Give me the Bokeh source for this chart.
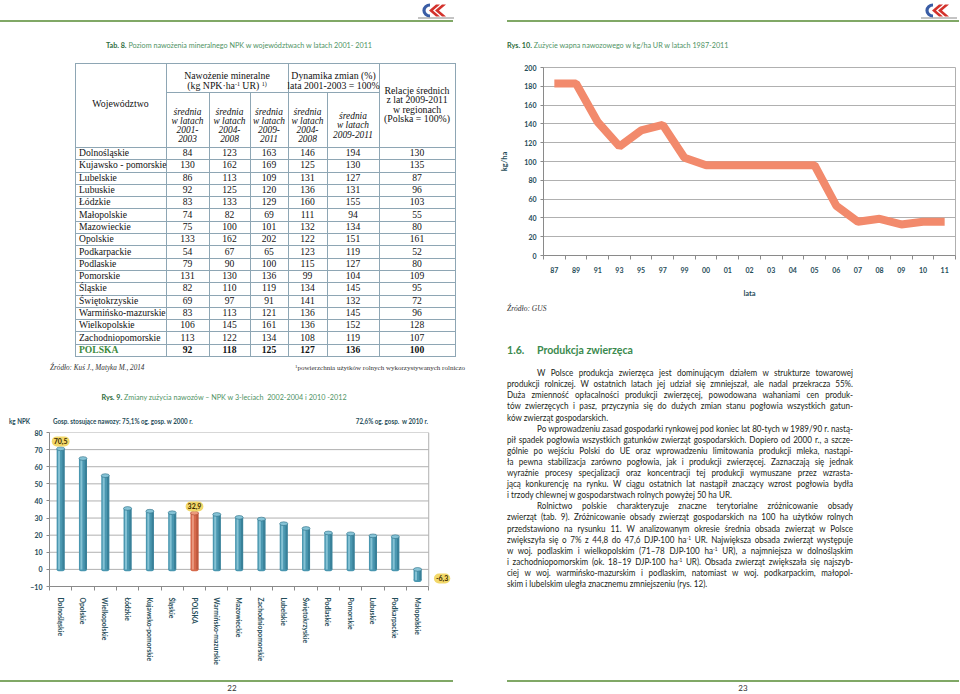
import numpy as np
from bokeh.plotting import figure
from bokeh.models import Range1d, FixedTicker, Label, Div, ColumnDataSource
from bokeh.layouts import column, row
from bokeh.transform import dodge
from bokeh.embed import file_html
from bokeh.resources import INLINE

# ---------------- data ----------------
regions = ["Dolnośląskie", "Kujawsko - pomorskie", "Lubelskie", "Lubuskie", "Łódzkie",
           "Małopolskie", "Mazowieckie", "Opolskie", "Podkarpackie", "Podlaskie",
           "Pomorskie", "Śląskie", "Świętokrzyskie", "Warmińsko-mazurskie",
           "Wielkopolskie", "Zachodniopomorskie", "POLSKA"]
npk_2001_2003 = [84, 130, 86, 92, 83, 74, 75, 133, 54, 79, 131, 82, 69, 83, 106, 113, 92]
npk_2004_2008 = [123, 162, 113, 125, 133, 82, 100, 162, 67, 90, 130, 110, 97, 113, 145, 122, 118]
npk_2009_2011 = [163, 169, 109, 120, 129, 69, 101, 202, 65, 100, 136, 119, 91, 121, 161, 134, 125]
dyn_2004_2008 = [146, 125, 131, 136, 160, 111, 132, 122, 123, 115, 99, 134, 141, 136, 136, 108, 127]
dyn_2009_2011 = [194, 130, 127, 131, 155, 94, 134, 151, 119, 127, 104, 145, 132, 145, 152, 119, 136]
rel_2009_2011 = [130, 135, 87, 96, 103, 55, 80, 161, 52, 80, 109, 95, 72, 96, 128, 107, 100]

bar_regions = ["Dolnośląskie", "Opolskie", "Wielkopolskie", "Łódzkie", "Kujawsko-pomorskie",
               "Śląskie", "POLSKA", "Warmińsko-mazurskie", "Mazowieckie", "Zachodniopomorskie",
               "Lubelskie", "Świętokrzyskie", "Podlaskie", "Pomorskie", "Lubuskie",
               "Podkarpackie", "Małopolskie"]
npk_change = [70.5, 64.8, 54.8, 35.6, 34.0, 33.1, 32.9, 32.1, 30.4, 29.4, 26.7, 23.9,
              21.3, 20.8, 19.6, 19.1, -6.3]
bar_ticks = [-10, 0, 10, 20, 30, 40, 50, 60, 70, 80]

lime_years = ["87", "89", "91", "93", "95", "97", "99", "00", "01", "02", "03", "04",
              "05", "06", "07", "08", "09", "10", "11"]
lime_kg_ha = [183, 183, 142, 116, 133, 139, 104, 96, 96, 96, 96, 96, 96, 53, 36, 39, 33, 36, 36]
line_ticks = [0, 20, 40, 60, 80, 100, 120, 140, 160, 180, 200]

# ---------------- styles ----------------
SANS = "Lato"
SANS_CSS = "Lato, sans-serif"
SERIF_CSS = "'Liberation Serif', serif"
TEAL = "#1f4d59"
GD = "#2e6d40"
GL = "#4f9364"
RULE = "#80a866"
GRID = "#b0b0b0"
AXC = "#8a8a8a"
BC = "#8ea6b4"


# ---------------- HTML helpers ----------------
def tx(x, y, s, size, fam=SANS_CSS, color="#222222", weight="normal", style="normal",
       align="left", sx=1.0):
    t = {"left": "0%", "center": "-50%", "right": "-100%"}[align]
    o = {"left": "0% 50%", "center": "50% 50%", "right": "100% 50%"}[align]
    return (f'<div style="position:absolute;left:{x}px;top:{y}px;'
            f'transform:translate({t},-50%) scaleX({sx});transform-origin:{o};'
            f'white-space:nowrap;font-family:{fam};font-size:{size}px;font-weight:{weight};'
            f'font-style:{style};color:{color};line-height:1.2">{s}</div>')


def rect(x, y, w, h, color):
    return (f'<div style="position:absolute;left:{x}px;top:{y}px;width:{w}px;height:{h}px;'
            f'background:{color}"></div>')


def logo(x, y):
    return (f'<svg style="position:absolute;left:{x}px;top:{y}px" width="38" height="17" '
            f'viewBox="0 0 38 17">'
            f'<path d="M13 3 A6 5.5 0 1 0 13 14" stroke="#3a5da5" stroke-width="3.2" fill="none"/>'
            f'<polygon points="12,8.5 19,2.5 23,2.5 16,8.5 23,14.5 19,14.5" fill="#d3322c"/>'
            f'<polygon points="18,8.5 25,2.5 29,2.5 22,8.5 29,14.5 25,14.5" fill="#d3322c"/>'
            f'<rect x="1" y="15.5" width="36" height="1" fill="#8a8a8a"/></svg>')


def box(parts, w, h):
    return (f'<div style="position:relative;width:{w}px;height:{h}px;overflow:hidden;'
            f'background:#ffffff">' + "".join(parts) + '</div>')


SUPM = '<sup style="font-size:6px;vertical-align:3px;line-height:0">-1</sup>'

# ---------------- left top: header, table, bar chart header ----------------
L = [rect(0, 20, 453, 2, RULE), logo(417, 2)]
L.append(tx(239, 46, f'<b style="color:{GD}">Tab. 8.</b> Poziom nawożenia mineralnego NPK '
                     f'w województwach w latach 2001- 2011', 8, color=GL, align="center", sx=0.9))

E = [75, 166, 209, 250, 288, 327, 379, 455]
T_TOP, T_SUB, T_HB, T_BOT = 63, 92, 147, 356
rh = (T_BOT - T_HB) / len(regions)
hys = [T_TOP, T_HB] + [T_HB + rh * k for k in range(1, len(regions) + 1)]
for yy in hys:
    L.append(rect(E[0], round(yy), E[-1] - E[0] + 1, 1, BC))
L.append(rect(E[1], T_SUB, E[6] - E[1], 1, BC))
for xx in [E[0], E[1], E[4], E[6], E[7]]:
    L.append(rect(xx, T_TOP, 1, T_BOT - T_TOP, BC))
for xx in [E[2], E[3], E[5]]:
    L.append(rect(xx, T_SUB, 1, T_BOT - T_SUB, BC))

L.append(tx(120.5, 104, "Województwo", 9.8, fam=SERIF_CSS, color="#111", align="center"))
L.append(tx(227, 75.5, "Nawożenie mineralne", 9.8, fam=SERIF_CSS, color="#111", align="center"))
L.append(tx(227, 86, '(kg NPK·ha' + SUPM + ' UR) <sup style="font-size:6px;vertical-align:3px;'
                     'line-height:0">1)</sup>', 9.8, fam=SERIF_CSS, color="#111", align="center"))
L.append(tx(333.5, 75.5, "Dynamika zmian (%)", 9.8, fam=SERIF_CSS, color="#111", align="center"))
L.append(tx(333.5, 86, "lata 2001-2003 = 100%", 9.8, fam=SERIF_CSS, color="#111", align="center"))
for k, s in enumerate(["Relacje średnich", "z lat 2009-2011", "w regionach", "(Polska = 100%)"]):
    L.append(tx(417, 90.5 + 9.6 * k, s, 9.8, fam=SERIF_CSS, color="#111", align="center"))
sub_heads = [["średnia", "w latach", "2001-", "2003"], ["średnia", "w latach", "2004-", "2008"],
             ["średnia", "w latach", "2009-", "2011"], ["średnia", "w latach", "2004-", "2008"]]
for j, lines in enumerate(sub_heads):
    cx = (E[j + 1] + E[j + 2]) / 2
    for k, s in enumerate(lines):
        L.append(tx(cx, 112.5 + 9.3 * k, s, 9.4, fam=SERIF_CSS, color="#111", style="italic",
                    align="center"))
for k, s in enumerate(["średnia", "w latach", "2009-2011"]):
    L.append(tx((E[5] + E[6]) / 2, 117 + 9.3 * k, s, 9.4, fam=SERIF_CSS, color="#111",
                style="italic", align="center"))

cols = [npk_2001_2003, npk_2004_2008, npk_2009_2011, dyn_2004_2008, dyn_2009_2011, rel_2009_2011]
centers = [(E[j] + E[j + 1]) / 2 for j in range(1, 7)]
for i, r in enumerate(regions):
    y = T_HB + rh * (i + 0.5)
    pl_row = r == "POLSKA"
    L.append(tx(79, y, r, 9.6, fam=SERIF_CSS, color="#3c8a3c" if pl_row else "#111",
                weight="bold" if pl_row else "normal"))
    for c, cx in zip(cols, centers):
        L.append(tx(cx, y, str(c[i]), 9.6, fam=SERIF_CSS, color="#111",
                    weight="bold" if pl_row else "normal", align="center"))

L.append(tx(50, 368, "Źródło: Kuś J., Matyka M., 2014", 7.2, fam=SERIF_CSS, color="#333",
            style="italic"))
L.append(tx(295, 368, '<sup style="font-size:5px;vertical-align:2px;line-height:0">1</sup>'
                      'powierzchnia użytków rolnych wykorzystywanych rolniczo', 7,
            fam=SERIF_CSS, color="#333"))

L.append(tx(224, 398, f'<b style="color:{GD}">Rys. 9.</b> Zmiany zużycia nawozów – NPK '
                      f'w 3-leciach&nbsp; 2002-2004 i 2010 -2012', 8, color=GL, align="center",
            sx=0.9))
L.append(tx(9, 421, "kg NPK", 7, color=TEAL, weight="bold", sx=0.89))
L.append(tx(53, 421, "Gosp. stosujące nawozy: 75,1% og. gosp. w 2000 r.", 7, color=TEAL,
            weight="bold", sx=0.89))
L.append(tx(428, 421, "72,6% og. gosp.&nbsp; w 2010 r.", 7, color=TEAL, weight="bold",
            align="right", sx=0.89))
div_lt = Div(text=box(L, 480, 427), width=480, height=427, margin=(0, 0, 0, 0))

# ---------------- left: bar chart ----------------
n = len(bar_regions)
xb = list(range(n))
vals = np.array(npk_change)
is_pl = [r == "POLSKA" for r in bar_regions]
src = ColumnDataSource(dict(
    x=xb, top=np.maximum(vals, 0), bot=np.minimum(vals, 0),
    base=["#d66a4c" if f else "#4a97b0" for f in is_pl],
    light=["#f0a68c" if f else "#9ad0e0" for f in is_pl],
    dark=["#a9472f" if f else "#2c6f87" for f in is_pl],
    cap=["#ec9a7e" if f else "#86c3d6" for f in is_pl]))

x_lo, x_hi = -0.5, n - 0.5
pb = figure(width=480, height=245, x_range=Range1d(x_lo, x_hi + 1.2), y_range=Range1d(-10, 80),
            min_border_left=49, min_border_right=25, min_border_top=5, min_border_bottom=86,
            toolbar_location=None, output_backend="svg", outline_line_color=None)
pb.xgrid.visible = False
pb.ygrid.visible = False
pb.segment(x0=[x_lo] * len(bar_ticks), y0=bar_ticks, x1=[x_hi] * len(bar_ticks), y1=bar_ticks,
           line_color=GRID, line_width=1)
pb.segment(x0=[x_hi], y0=[bar_ticks[0]], x1=[x_hi], y1=[bar_ticks[-1]], line_color=GRID, line_width=1)
pb.ellipse(x="x", y="bot", width=0.36, height=2.2, fill_color="base", line_color=None, source=src)
pb.vbar(x="x", top="top", bottom="bot", width=0.36, fill_color="base", line_color=None, source=src)
pb.vbar(x=dodge("x", -0.07, range=pb.x_range), top="top", bottom="bot", width=0.09,
        fill_color="light", fill_alpha=0.75, line_color=None, source=src)
pb.vbar(x=dodge("x", 0.13, range=pb.x_range), top="top", bottom="bot", width=0.1,
        fill_color="dark", fill_alpha=0.55, line_color=None, source=src)
pb.ellipse(x="x", y="top", width=0.36, height=2.2, fill_color="cap", line_color="dark",
           line_width=0.6, source=src)

pb.yaxis.ticker = FixedTicker(ticks=bar_ticks)
pb.yaxis.major_tick_out = 3
pb.yaxis.major_tick_in = 0
pb.yaxis.minor_tick_line_color = None
pb.yaxis.major_label_standoff = 4
pb.xaxis.ticker = FixedTicker(ticks=xb, minor_ticks=[i - 0.5 for i in range(n + 1)])
pb.xaxis.major_label_overrides = {i: r for i, r in zip(xb, bar_regions)}
pb.xaxis.major_label_orientation = "vertical"
pb.xaxis.bounds = (x_lo, x_hi)
pb.xaxis.major_tick_in = 0
pb.xaxis.major_tick_out = 0
pb.xaxis.minor_tick_in = 0
pb.xaxis.minor_tick_out = 4
pb.xaxis.major_label_standoff = 7
for ax in (pb.xaxis, pb.yaxis):
    ax.axis_line_color = AXC
    ax.major_tick_line_color = AXC
    ax.major_label_text_font = SANS
    ax.major_label_text_font_style = "bold"
    ax.major_label_text_color = TEAL
pb.xaxis.minor_tick_line_color = AXC
pb.xaxis.major_label_text_font_size = "6.8px"
pb.yaxis.major_label_text_font_size = "7px"


def pill(p, x, y, v):
    p.add_layout(Label(x=x, y=y, text=f"{v:.1f}".replace(".", ","), text_font=SANS,
                       text_font_size="7px", text_font_style="bold", text_color="#3a2a00",
                       text_align="center", text_baseline="middle",
                       background_fill_color="#f2d86a", border_radius=5, padding=2))


ipl = bar_regions.index("POLSKA")
pill(pb, 0, npk_change[0] + 4.3, npk_change[0])
pill(pb, ipl, npk_change[ipl] + 3.9, npk_change[ipl])
pill(pb, n - 1 + 1.1, npk_change[-1] + 1.0, npk_change[-1])

# ---------------- left: footer ----------------
div_lf = Div(text=box([rect(0, 8, 453, 2, RULE), tx(232, 17, "22", 8, color="#333", align="center")],
                      480, 21), width=480, height=21, margin=(0, 0, 0, 0))

# ---------------- right top ----------------
R1 = [rect(27, 20, 453, 2, RULE), logo(440, 2),
      tx(27, 46, f'<b style="color:{GD}">Rys. 10.</b> Zużycie wapna nawozowego w kg/ha UR '
                 f'w latach 1987-2011', 8, color=GL, sx=0.9)]
div_rt = Div(text=box(R1, 479, 55), width=479, height=55, margin=(0, 0, 0, 0))

# ---------------- right: line chart ----------------
nl = len(lime_years)
xl = list(range(nl))
pl = figure(width=479, height=245, x_range=Range1d(-0.5, nl - 0.5), y_range=Range1d(0, 200),
            min_border_left=63, min_border_right=4, min_border_top=12, min_border_bottom=41,
            toolbar_location=None, output_backend="svg", outline_line_color=GRID)
pl.line(xl, lime_kg_ha, line_width=8, line_color="#f28a6c")
pl.yaxis.ticker = FixedTicker(ticks=line_ticks)
pl.ygrid.grid_line_color = GRID
pl.xgrid.visible = False
pl.xaxis.ticker = FixedTicker(ticks=xl, minor_ticks=[i - 0.5 for i in range(nl + 1)])
pl.xaxis.major_label_overrides = {i: y for i, y in zip(xl, lime_years)}
pl.xaxis.major_tick_in = 0
pl.xaxis.major_tick_out = 0
pl.xaxis.minor_tick_in = 0
pl.xaxis.minor_tick_out = 4
pl.xaxis.minor_tick_line_color = AXC
pl.xaxis.major_label_standoff = 7
pl.yaxis.major_tick_out = 3
pl.yaxis.major_tick_in = 0
pl.yaxis.minor_tick_line_color = None
pl.yaxis.major_label_standoff = 4
pl.xaxis.axis_label = "lata"
pl.yaxis.axis_label = "kg/ha"
pl.xaxis.axis_label_standoff = 13
pl.yaxis.axis_label_standoff = 12
for ax in (pl.xaxis, pl.yaxis):
    ax.axis_line_color = AXC
    ax.major_tick_line_color = AXC
    ax.major_label_text_font = SANS
    ax.major_label_text_font_style = "bold"
    ax.major_label_text_color = TEAL
    ax.major_label_text_font_size = "7px"
    ax.axis_label_text_font = SANS
    ax.axis_label_text_font_style = "bold"
    ax.axis_label_text_color = TEAL
    ax.axis_label_text_font_size = "7.5px"

# ---------------- right bottom: source, heading, paragraph, footer ----------------
SUP = '<sup style="font-size:5.5px;vertical-align:3.5px;line-height:0">-1</sup>'
para_lines = [
    ("W Polsce produkcja zwierzęca jest dominującym działem w strukturze towarowej", 1, 0),
    ("produkcji rolniczej. W ostatnich latach jej udział się zmniejszał, ale nadal przekracza 55%.", 0, 0),
    ("Duża zmienność opłacalności produkcji zwierzęcej, powodowana wahaniami cen produk-", 0, 0),
    ("tów zwierzęcych i pasz, przyczynia się do dużych zmian stanu pogłowia wszystkich gatun-", 0, 0),
    ("ków zwierząt gospodarskich.", 0, 1),
    ("Po wprowadzeniu zasad gospodarki rynkowej pod koniec lat 80-tych w 1989/90 r. nastą-", 1, 0),
    ("pił spadek pogłowia wszystkich gatunków zwierząt gospodarskich. Dopiero od 2000 r., a szcze-", 0, 0),
    ("gólnie po wejściu Polski do UE oraz wprowadzeniu limitowania produkcji mleka, nastąpi-", 0, 0),
    ("ła pewna stabilizacja zarówno pogłowia, jak i produkcji zwierzęcej. Zaznaczają się jednak", 0, 0),
    ("wyraźnie procesy specjalizacji oraz koncentracji tej produkcji wymuszane przez wzrasta-", 0, 0),
    ("jącą konkurencję na rynku. W ciągu ostatnich lat nastąpił znaczący wzrost pogłowia bydła", 0, 0),
    ("i trzody chlewnej w gospodarstwach rolnych powyżej 50 ha UR.", 0, 1),
    ("Rolnictwo polskie charakteryzuje znaczne terytorialne zróżnicowanie obsady", 1, 0),
    ("zwierząt (tab. 9). Zróżnicowanie obsady zwierząt gospodarskich na 100 ha użytków rolnych", 0, 0),
    ("przedstawiono na rysunku 11. W analizowanym okresie średnia obsada zwierząt w Polsce", 0, 0),
    ("zwiększyła się o 7% z 44,8 do 47,6 DJP·100 ha" + SUP + " UR. Największa obsada zwierząt występuje", 0, 0),
    ("w woj. podlaskim i wielkopolskim (71–78 DJP·100 ha" + SUP + " UR), a najmniejsza w dolnośląskim", 0, 0),
    ("i zachodniopomorskim (ok. 18–19 DJP·100 ha" + SUP + " UR). Obsada zwierząt zwiększała się najszyb-", 0, 0),
    ("ciej w woj. warmińsko-mazurskim i podlaskim, natomiast w woj. podkarpackim, małopol-", 0, 0),
    ("skim i lubelskim uległa znacznemu zmniejszeniu (rys. 12).", 0, 1),
]
S = 0.88
inner = []
for s, ind, last in para_lines:
    st = "white-space:nowrap;text-align:justify;text-align-last:%s;" % ("left" if last else "justify")
    if ind:
        st += "padding-left:%.1fpx;" % (30 / S)
    inner.append(f'<div style="{st}">{s}</div>')
para = (f'<div style="position:absolute;left:27px;top:67.2px;width:{346 / S:.1f}px;'
        f'transform:scaleX({S});transform-origin:0 0;font-family:{SANS_CSS};font-size:9.2px;'
        f'line-height:11.1px;color:#231f20;">' + "".join(inner) + '</div>')
R2 = [tx(27, 8, "Źródło: GUS", 7.5, fam=SERIF_CSS, color="#333", style="italic"),
      tx(27, 50, "1.6.", 11.5, color="#3b8a4e", weight="bold", sx=0.92),
      tx(57, 50, "Produkcja zwierzęca", 11.5, color="#3b8a4e", weight="bold", sx=0.92),
      para,
      rect(27, 380, 453, 2, RULE),
      tx(263, 389, "23", 8, color="#333", align="center")]
div_rb = Div(text=box(R2, 479, 393), width=479, height=393, margin=(0, 0, 0, 0))

left = column(div_lt, pb, div_lf, spacing=0)
right = column(div_rt, pl, div_rb, spacing=0)
page = row(left, right, spacing=0)

open("out.html", "w").write(file_html(page, INLINE))
